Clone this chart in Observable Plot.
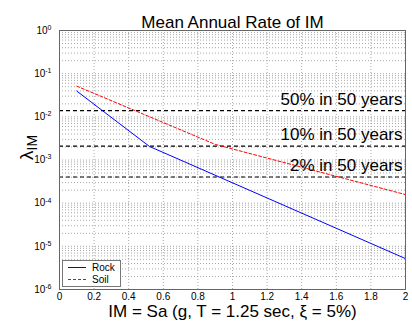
<!DOCTYPE html>
<html><head><meta charset="utf-8">
<script src="https://cdn.jsdelivr.net/npm/d3@7"></script>
<script src="https://cdn.jsdelivr.net/npm/@observablehq/plot@0.6"></script>
<style>
body{margin:0;background:#fff;}
#chart svg{font-family:"Liberation Sans",Arial,Helvetica,sans-serif;}
</style></head><body><div id="chart"></div>
<script>
const title = "Mean Annual Rate of IM";
const xLabel = "IM = Sa (g, T = 1.25 sec, ξ = 5%)";
const yLabelMain = "λ";
const yLabelSub = "IM";
const seriesNames = ["Rock", "Soil"];
const rockIM = [0.1, 0.52, 2];
const rockRate = [0.0394, 0.00206, 5.2e-6];
const soilIM = [0.1, 0.9, 2];
const soilRate = [0.0514, 0.0023, 1.58e-4];
const hazardLabels = ["50% in 50 years", "10% in 50 years", "2% in 50 years"];
const hazardRates = [0.01386, 0.002107, 0.000404];
const xTicks = [0, 0.2, 0.4, 0.6, 0.8, 1, 1.2, 1.4, 1.6, 1.8, 2];
const xTickLabels = ["0", "0.2", "0.4", "0.6", "0.8", "1", "1.2", "1.4", "1.6", "1.8", "2"];
const yTicks = [1e-6, 1e-5, 1e-4, 1e-3, 1e-2, 1e-1, 1];
const yTickExps = ["-6", "-5", "-4", "-3", "-2", "-1", "0"];

const rock = rockIM.map((x, i) => ({x, y: rockRate[i], s: seriesNames[0]}));
const soil = soilIM.map((x, i) => ({x, y: soilRate[i], s: seriesNames[1]}));
const yMinor = yTicks.slice(0, -1).flatMap(d => [2,3,4,5,6,7,8,9].map(k => d * k));
const gridStyle = {stroke: "#a8a8a8", strokeOpacity: 1, strokeDasharray: "1,2", strokeWidth: 1};

const chart = Plot.plot({
  width: 412, height: 324,
  marginTop: 30, marginBottom: 35, marginLeft: 59, marginRight: 7,
  style: {fontFamily: '"Liberation Sans",Arial,Helvetica,sans-serif', fontSize: "10px", background: "white", color: "black"},
  x: {domain: [0, 2]},
  y: {type: "log", domain: [1e-6, 1]},
  marks: [
    Plot.gridY(yMinor, gridStyle),
    Plot.gridY(yTicks, gridStyle),
    Plot.gridX(xTicks, gridStyle),
    Plot.ruleY(hazardRates, {stroke: "black", strokeDasharray: "4,3", strokeWidth: 1.2}),
    Plot.line(rock, {x: "x", y: "y", stroke: "#0000ff", strokeWidth: 1}),
    Plot.line(soil, {x: "x", y: "y", stroke: "#ff0000", strokeWidth: 1, strokeDasharray: "3,2"}),
    Plot.text(hazardLabels, {x: () => 2, y: (d, i) => hazardRates[i], text: d => d, textAnchor: "end", dx: -3, dy: -11, fontSize: 17, fill: "black"}),
    Plot.frame({stroke: "#666"}),
    Plot.axisX(xTicks, {tickSize: 0, tickPadding: 3, tickFormat: d => xTickLabels[xTicks.indexOf(d)], label: null, fontSize: 10}),
    Plot.axisY(yTicks, {tickSize: 0, tickPadding: 8, tickFormat: d => "10|" + yTickExps[yTicks.indexOf(d)], label: null, fontSize: 10}),
    Plot.text([title], {frameAnchor: "top", dy: -15, fontSize: 17, fill: "black"}),
    Plot.text([xLabel], {frameAnchor: "bottom", dy: 27, fontSize: 17, fill: "black"}),
    Plot.text([yLabelMain + "|" + yLabelSub], {frameAnchor: "left", dx: -33, rotate: -90, fontSize: 19, fill: "black"})
  ]
});
document.getElementById("chart").appendChild(chart);

const svg = d3.select(chart);
// superscript tick labels and subscript y label
svg.selectAll("text").each(function() {
  const t = this.textContent;
  if (t.startsWith("10|")) {
    const exp = t.split("|")[1];
    const el = d3.select(this);
    el.text("10");
    el.append("tspan").attr("dy", "-0.55em").attr("font-size", "7px").text(exp);
  } else if (t === yLabelMain + "|" + yLabelSub) {
    const el = d3.select(this);
    el.text(yLabelMain);
    el.append("tspan").attr("dy", "0.35em").attr("font-size", "14px").text(yLabelSub);
  }
});

// legend
const lg = svg.append("g").attr("text-anchor", "start");
lg.append("rect").attr("x", 62.5).attr("y", 260.5).attr("width", 58).attr("height", 26)
  .attr("fill", "white").attr("stroke", "#777");
const legendItems = [
  {name: seriesNames[0], color: "#0000ff", dash: null},
  {name: seriesNames[1], color: "#ff0000", dash: "3,2"}
];
legendItems.forEach((d, i) => {
  const y = 267.5 + i * 12;
  lg.append("line").attr("x1", 68).attr("x2", 86).attr("y1", y).attr("y2", y)
    .attr("stroke", d.color).attr("stroke-width", 1).attr("stroke-dasharray", d.dash);
  lg.append("text").attr("x", 92).attr("y", y).attr("dy", "0.35em").attr("text-anchor", "start")
    .attr("font-size", "10px").attr("fill", "black").text(d.name);
});
</script></body></html>
